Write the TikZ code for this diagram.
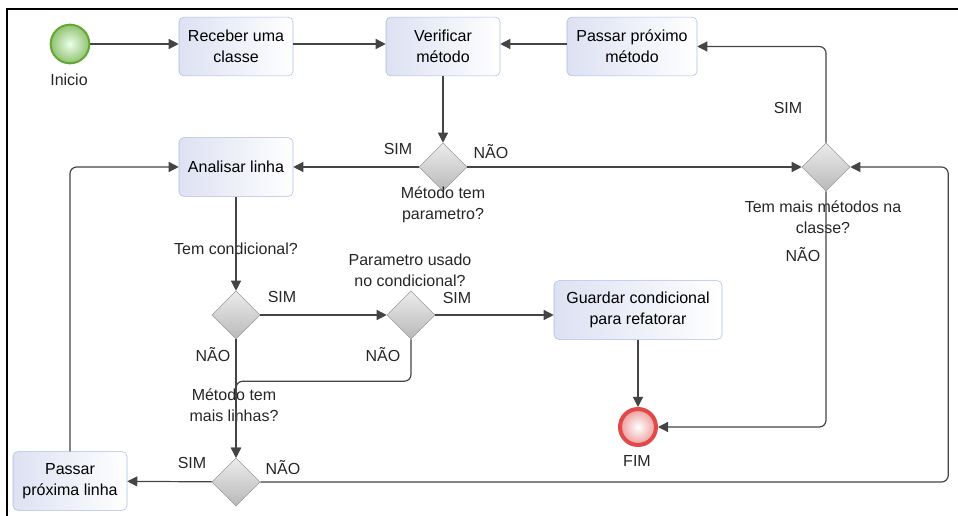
\documentclass[tikz,border=0pt]{standalone}
\usepackage{fontspec}
\setmainfont{Liberation Sans}
\usetikzlibrary{arrows.meta,shapes.geometric}

\definecolor{taskborder}{HTML}{A9BCE4}
\definecolor{taskfill}{HTML}{DDE1F2}
\definecolor{gateborder}{HTML}{9A9A9A}
\definecolor{flowline}{HTML}{444444}
\definecolor{startgreen}{HTML}{62A832}
\definecolor{endred}{HTML}{E24A4A}

\tikzset{
  task/.style={draw=taskborder, rounded corners=3.5pt, left color=taskfill, right color=white,
    minimum width=85.5pt, minimum height=44pt, align=center, inner sep=2pt},
  gate/.style={diamond, draw=gateborder, top color=gray!15, bottom color=gray!55,
    minimum width=36pt, minimum height=36pt, inner sep=0pt},
  startev/.style={circle, draw=startgreen, line width=1.5pt, inner color=green!8!white,
    outer color=startgreen!70!white, minimum size=29pt, inner sep=0pt},
  endev/.style={circle, draw=endred, line width=3pt, inner color=white, outer color=endred!55!white,
    minimum size=27pt, inner sep=0pt},
  flow/.style={draw=flowline, line width=0.9pt, rounded corners=5pt,
    -{Triangle[length=7.5pt,width=7.5pt]}},
  txt/.style={align=center, inner sep=1pt, text=black!85},
}

\begin{document}
\begin{tikzpicture}[x=0.75pt, y=-0.75pt, font=\fontsize{12}{16}\selectfont]
  \useasboundingbox (0,0) rectangle (958,516);
  \draw[line width=1.2pt] (7,516) -- (7,9) -- (958,9);

  % eventos
  \node[startev] (inicio) at (70,44) {};
  \node[txt] (lblinicio) at (69,80) {Inicio};
  \node[endev] (fim) at (638,427) {};
  \node[txt] (lblfim) at (637,461) {FIM};

  % tarefas
  \node[task] (receber) at (236,46.5) {Receber uma\\classe};
  \node[task] (verificar) at (443,46.5) {Verificar\\método};
  \node[task, minimum width=97.5pt] (proxmetodo) at (632,46.5) {Passar próximo\\método};
  \node[task] (analisar) at (236,167) {Analisar linha};
  \node[task, minimum width=126pt] (guardar) at (638,310) {Guardar condicional\\para refatorar};
  \node[task] (proxlinha) at (70,481) {Passar\\próxima linha};

  % gateways
  \node[gate] (temparam) at (443,167) {};
  \node[gate] (maismetodos) at (826,167) {};
  \node[gate] (temcond) at (236,315) {};
  \node[gate] (paramusado) at (411,315) {};
  \node[gate] (maislinhas) at (236,482) {};

  \node[txt] (lbltemparam) at (443,205) {Método tem\\parametro?};
  \node[txt] (lblmaismetodos) at (823,217) {Tem mais métodos na\\classe?};
  \node[txt] (lbltemcond) at (236,249) {Tem condicional?};
  \node[txt] (lblparamusado) at (410,270) {Parametro usado\\no condicional?};
  \node[txt] (lblmaislinhas) at (234,405) {Método tem\\mais linhas?};

  % fluxos
  \draw[flow] (inicio.east) -- (inicio.east -| receber.west);
  \draw[flow] (receber.east |- inicio) -- (verificar.west |- inicio);
  \draw[flow] (proxmetodo.west |- inicio) -- (verificar.east |- inicio);
  \draw[flow] (verificar) -- (temparam);
  \draw[flow] (temparam) -- (analisar);
  \node[txt] (simparam) at (398,149) {SIM};
  \draw[flow] (temparam) -- (maismetodos);
  \node[txt] (naoparam) at (491,152) {NÃO};
  \draw[flow] (maismetodos.north) |- (proxmetodo.east);
  \node[txt] (simmetodos) at (788,108) {SIM};
  \draw[flow] (maismetodos.south) |- (fim.east);
  \node[txt] (naometodos) at (803,255) {NÃO};
  \draw[flow] (analisar) -- (temcond);
  \draw[flow] (temcond) -- (paramusado);
  \node[txt] (simcond) at (282,297) {SIM};
  \draw[flow] (temcond) -- (maislinhas);
  \node[txt] (naocond) at (213,355) {NÃO};
  \draw[flow] (paramusado.east) -- (paramusado.east -| guardar.west);
  \node[txt] (simusado) at (457,298) {SIM};
  \draw[flow] (paramusado.south) -- ++(0,42) -| (maislinhas.north);
  \node[txt] (naousado) at (383,355) {NÃO};
  \draw[flow] (guardar) -- (fim);
  \draw[flow] (maislinhas) -- (proxlinha);
  \node[txt] (simlinhas) at (192,463) {SIM};
  \draw[flow] (maislinhas.east) -- ++(688,0) |- (maismetodos.east);
  \node[txt] (naolinhas) at (283,468) {NÃO};
  \draw[flow] (proxlinha.north) |- (analisar.west);
\end{tikzpicture}
\end{document}
